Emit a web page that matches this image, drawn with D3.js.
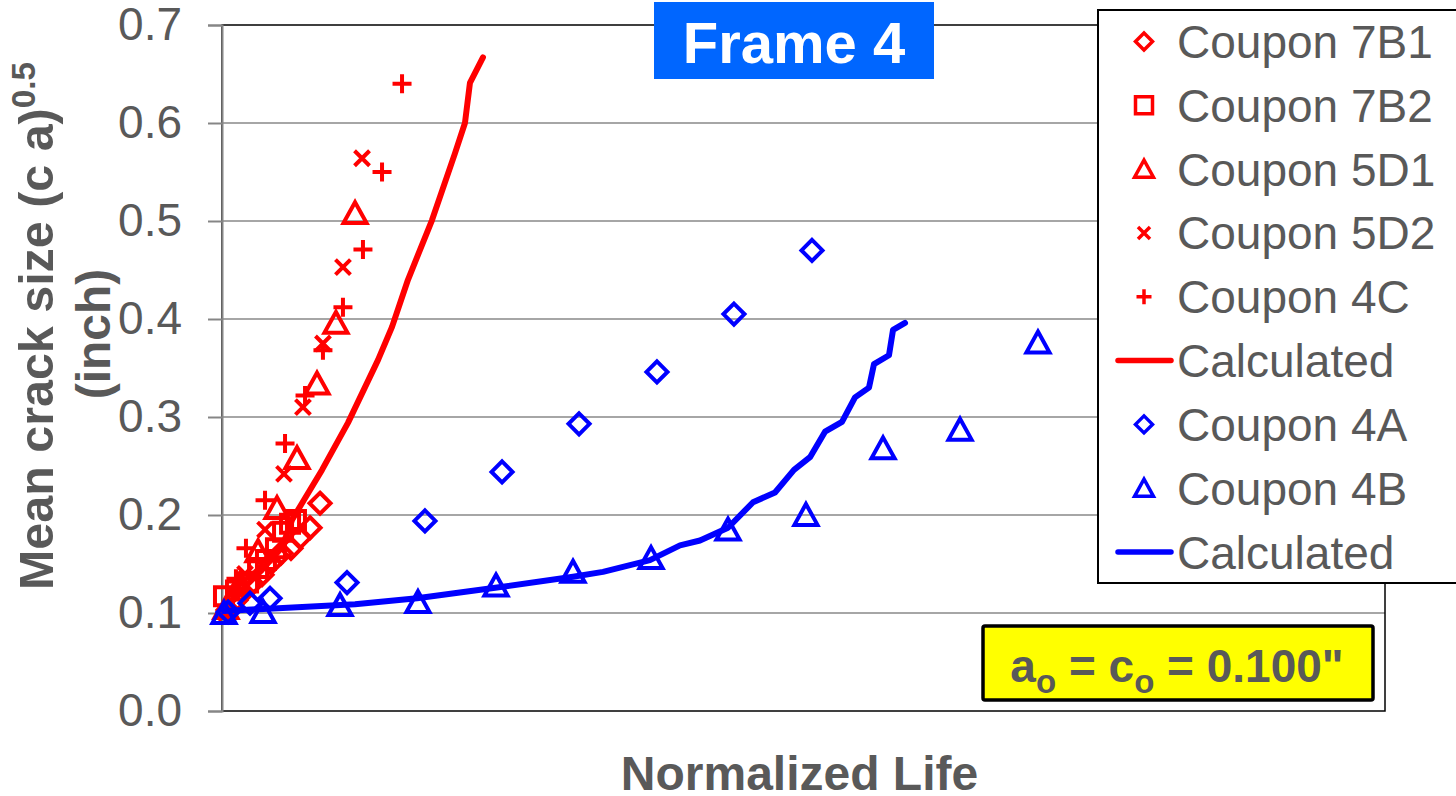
<!DOCTYPE html>
<html>
<head>
<meta charset="utf-8">
<script src="https://cdn.jsdelivr.net/npm/d3@7"></script>
<style>
  html, body { margin: 0; padding: 0; background: #fff; }
  svg { display: block; font-family: "Liberation Sans", Arial, sans-serif; }
</style>
</head>
<body>
<svg id="chart" width="1456" height="796"></svg>
<script>
// ---- data: normalized life (0-100) vs mean crack size (inch) ----
const yTicks = [0.0, 0.1, 0.2, 0.3, 0.4, 0.5, 0.6, 0.7];

const coupon7B1 = [[0.52,0.103],[1.20,0.113],[1.81,0.121],[2.58,0.130],[3.44,0.139],[4.21,0.151],[5.07,0.161],[5.93,0.166],[6.71,0.177],[7.57,0.187],[8.43,0.212]];
const coupon7B2 = [[0.17,0.117],[1.20,0.123],[2.24,0.131],[3.10,0.146],[3.78,0.154],[4.64,0.166],[5.25,0.183],[5.85,0.191],[6.36,0.195]];
const coupon5D1 = [[0.34,0.105],[1.55,0.130],[3.10,0.163],[4.73,0.207],[6.45,0.258],[8.17,0.334],[9.80,0.396],[11.44,0.508]];
const coupon5D2 = [[0.34,0.100],[1.98,0.140],[3.70,0.185],[5.33,0.242],[6.96,0.310],[8.68,0.375],[10.40,0.453],[12.04,0.564]];
const coupon4C  = [[0.34,0.100],[1.20,0.135],[2.06,0.166],[3.70,0.215],[5.42,0.273],[7.14,0.322],[8.68,0.368],[10.40,0.412],[12.12,0.471],[13.76,0.550],[15.48,0.640]];
const calcRed   = [[0.17,0.102],[1.98,0.127],[3.44,0.144],[5.16,0.167],[6.02,0.195],[6.88,0.212],[8.60,0.246],[10.83,0.294],[13.41,0.358],[14.62,0.392],[15.99,0.440],[18.06,0.501],[20.03,0.569],[20.89,0.600],[21.32,0.641],[22.44,0.667]];

const coupon4A  = [[0.52,0.101],[2.41,0.110],[4.13,0.115],[10.75,0.131],[17.45,0.194],[24.08,0.244],[30.70,0.293],[37.40,0.346],[44.02,0.405],[50.73,0.470]];
const coupon4B  = [[0.17,0.100],[3.53,0.101],[10.15,0.108],[16.85,0.111],[23.56,0.128],[30.18,0.142],[36.89,0.156],[43.51,0.185],[50.21,0.200],[56.84,0.268],[63.46,0.287],[70.16,0.376]];
const calcBlue  = [[0.17,0.102],[11.44,0.109],[16.77,0.115],[23.65,0.126],[30.18,0.137],[32.76,0.142],[36.80,0.154],[39.38,0.169],[41.10,0.174],[43.51,0.187],[45.66,0.213],[47.55,0.223],[49.18,0.246],[50.56,0.259],[51.85,0.285],[53.31,0.295],[54.43,0.320],[55.63,0.330],[56.06,0.354],[57.35,0.363],[57.70,0.389],[58.73,0.396]];

const legendLabels = ["Coupon 7B1","Coupon 7B2","Coupon 5D1","Coupon 5D2","Coupon 4C","Calculated","Coupon 4A","Coupon 4B","Calculated"];

// ---- layout ----
const RED = "#FF0000", BLUE = "#0000FF", TEXT = "#595959";
const plot = { left: 222, right: 1385, top: 25, bottom: 711 };

const svg = d3.select("#chart");
const x = d3.scaleLinear().domain([0, 100]).range([plot.left, plot.right]);
const y = d3.scaleLinear().domain([0, 0.7]).range([plot.bottom, plot.top]);

// marker shapes (path generators around the origin)
function markerPath(kind, s) {
  const p = d3.path();
  if (kind === "diamond") {
    p.moveTo(0, -s); p.lineTo(s, 0); p.lineTo(0, s); p.lineTo(-s, 0); p.closePath();
  } else if (kind === "square") {
    p.rect(-s, -s, 2 * s, 2 * s);
  } else if (kind === "triangle") {
    p.moveTo(0, -s); p.lineTo(s * 1.05, s * 0.9); p.lineTo(-s * 1.05, s * 0.9); p.closePath();
  } else if (kind === "x") {
    p.moveTo(-s, -s); p.lineTo(s, s); p.moveTo(s, -s); p.lineTo(-s, s);
  } else if (kind === "plus") {
    p.moveTo(-s, 0); p.lineTo(s, 0); p.moveTo(0, -s); p.lineTo(0, s);
  }
  return p.toString();
}

// ---- grid + frame ----
svg.append("g").selectAll("line")
  .data(yTicks.filter(t => t > 0 && t < 0.7))
  .join("line")
  .attr("x1", plot.left).attr("x2", plot.right)
  .attr("y1", d => y(d)).attr("y2", d => y(d))
  .attr("stroke", "#A6A6A6").attr("stroke-width", 2);

svg.append("rect")
  .attr("x", plot.left).attr("y", plot.top)
  .attr("width", plot.right - plot.left).attr("height", plot.bottom - plot.top)
  .attr("fill", "none").attr("stroke", "#000").attr("stroke-width", 1.5);

// y axis
const yAxis = d3.axisLeft(y).tickValues(yTicks).tickFormat(d3.format(".1f"))
  .tickSize(14).tickPadding(26);
const yg = svg.append("g").attr("transform", `translate(${plot.left},0)`).call(yAxis);
yg.select(".domain").attr("stroke", "#868686").attr("stroke-width", 2);
yg.selectAll(".tick line").attr("stroke", "#868686").attr("stroke-width", 2);
yg.selectAll(".tick text").attr("fill", TEXT)
  .style("font-family", '"Liberation Sans", Arial, sans-serif').style("font-size", "46px");

// axis titles
const yTitle = svg.append("text")
  .attr("transform", "translate(53,326) rotate(-90)")
  .attr("text-anchor", "middle")
  .attr("fill", TEXT).attr("font-weight", "bold").attr("font-size", 48)
  .attr("textLength", 528).attr("lengthAdjust", "spacingAndGlyphs");
yTitle.append("tspan").text("Mean crack size (c a)");
yTitle.append("tspan").attr("dy", -18).attr("font-size", 33).text("0.5");

svg.append("text")
  .attr("transform", "translate(110,334) rotate(-90)")
  .attr("text-anchor", "middle")
  .attr("fill", TEXT).attr("font-weight", "bold").attr("font-size", 48)
  .text("(inch)");

svg.append("text")
  .attr("x", (plot.left + plot.right) / 2 - 4).attr("y", 790)
  .attr("text-anchor", "middle")
  .attr("fill", TEXT).attr("font-weight", "bold").attr("font-size", 48)
  .text("Normalized Life");

// ---- series ----
const lineGen = d3.line().x(d => x(d[0])).y(d => y(d[1]));

function drawMarkers(data, kind, color, size, width) {
  svg.append("g").selectAll("path")
    .data(data)
    .join("path")
    .attr("transform", d => `translate(${x(d[0])},${y(d[1])})`)
    .attr("d", markerPath(kind, size))
    .attr("fill", "none")
    .attr("stroke", color).attr("stroke-width", width)
    .attr("stroke-linejoin", "miter");
}
function drawLine(data, color) {
  svg.append("path").datum(data)
    .attr("d", lineGen)
    .attr("fill", "none").attr("stroke", color)
    .attr("stroke-width", 6).attr("stroke-linejoin", "round").attr("stroke-linecap", "round");
}

drawMarkers(coupon7B1, "diamond", RED, 10.5, 4);
drawMarkers(coupon7B2, "square", RED, 9, 4);
drawMarkers(coupon5D1, "triangle", RED, 11, 4);
drawMarkers(coupon5D2, "x", RED, 7.5, 4);
drawMarkers(coupon4C, "plus", RED, 9.5, 4);
drawLine(calcRed, RED);
drawMarkers(coupon4A, "diamond", BLUE, 10.5, 4);
drawMarkers(coupon4B, "triangle", BLUE, 11, 4);
drawLine(calcBlue, BLUE);

// ---- title box ----
svg.append("rect").attr("x", 654).attr("y", 2).attr("width", 280).attr("height", 77).attr("fill", "#0066FF");
svg.append("text").attr("x", 794).attr("y", 63).attr("text-anchor", "middle")
  .attr("fill", "#fff").attr("font-weight", "bold").attr("font-size", 58).text("Frame 4");

// ---- initial crack size note ----
svg.append("rect").attr("x", 983).attr("y", 626).attr("width", 390).attr("height", 74)
  .attr("rx", 2).attr("fill", "#FFFF00").attr("stroke", "#000").attr("stroke-width", 3.5);
const note = svg.append("text").attr("x", 1177).attr("y", 682).attr("text-anchor", "middle")
  .attr("fill", TEXT).attr("font-weight", "bold").attr("font-size", 46);
note.append("tspan").text("a");
note.append("tspan").attr("font-size", 33).attr("dy", 11).text("o");
note.append("tspan").attr("dy", -11).text(" = c");
note.append("tspan").attr("font-size", 33).attr("dy", 11).text("o");
note.append("tspan").attr("dy", -11).text(" = 0.100\"");

// ---- legend ----
const legend = svg.append("g");
legend.append("rect").attr("x", 1098).attr("y", 10).attr("width", 370).attr("height", 573)
  .attr("fill", "#fff").attr("stroke", "#000").attr("stroke-width", 2);

const legendKinds = ["diamond","square","triangle","x","plus","line","diamond","triangle","line"];
const legendColors = [RED, RED, RED, RED, RED, RED, BLUE, BLUE, BLUE];
const ly = d3.scalePoint().domain(d3.range(legendLabels.length)).range([41.5, 552]);

legendLabels.forEach((label, i) => {
  const cy = ly(i);
  const kind = legendKinds[i];
  if (kind === "line") {
    legend.append("line").attr("x1", 1118).attr("x2", 1171).attr("y1", cy).attr("y2", cy)
      .attr("stroke", legendColors[i]).attr("stroke-width", 5.5).attr("stroke-linecap", "round");
  } else {
    const s = { diamond: 8.5, square: 8.5, triangle: 9, x: 6, plus: 7.5 }[kind];
    legend.append("path").attr("transform", `translate(1144,${cy})`)
      .attr("d", markerPath(kind, s))
      .attr("fill", "none").attr("stroke", legendColors[i]).attr("stroke-width", 3.5);
  }
  legend.append("text").attr("x", 1177).attr("y", cy + 16.5)
    .attr("fill", TEXT).attr("font-size", 46).text(label);
});
</script>
</body>
</html>
